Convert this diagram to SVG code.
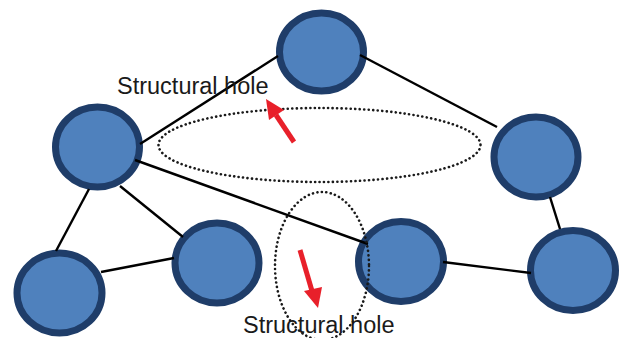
<svg xmlns="http://www.w3.org/2000/svg" width="619" height="338" viewBox="0 0 619 338">
<defs>
<style>
.node{fill:#4f81bd;stroke:#1f3d69;stroke-width:7}
.edge{stroke:#000;stroke-width:2.4;fill:none}
.hole{fill:none;stroke:#1a1a1a;stroke-width:2.6;stroke-dasharray:0.1 4.4;stroke-linecap:round}
.arrow{stroke:#e8202a;stroke-width:5;fill:none}
.ah{fill:#e8202a}
.lbl{font-family:"Liberation Sans",Arial,sans-serif;font-size:23.5px;fill:#1a1a1a}
</style>
</defs>
<rect width="619" height="338" fill="#fff"/>
<g id="node-top"><ellipse class="node" cx="321.5" cy="52" rx="42" ry="39"/></g>
<g id="node-left"><ellipse class="node" cx="97.5" cy="147" rx="42" ry="40"/></g>
<g id="node-right-top"><ellipse class="node" cx="536" cy="157" rx="42" ry="40"/></g>
<g id="node-bottom-left"><ellipse class="node" cx="59.5" cy="293" rx="42.5" ry="40"/></g>
<g id="node-bottom-mid"><ellipse class="node" cx="217" cy="263" rx="42" ry="40"/></g>
<g id="node-bottom-center"><ellipse class="node" cx="401" cy="261.5" rx="42.5" ry="40"/></g>
<g id="node-bottom-right"><ellipse class="node" cx="573" cy="270.5" rx="42.5" ry="40"/></g>
<g id="connectors">
<line class="edge" x1="140" y1="144" x2="278" y2="56"/>
<line class="edge" x1="360" y1="55" x2="497" y2="127"/>
<line class="edge" x1="135" y1="160" x2="368" y2="244"/>
<line class="edge" x1="89" y1="189" x2="56" y2="251"/>
<line class="edge" x1="120" y1="186" x2="183" y2="237"/>
<line class="edge" x1="101" y1="272" x2="174" y2="258"/>
<line class="edge" x1="443" y1="262" x2="531" y2="273"/>
<line class="edge" x1="550" y1="197" x2="560" y2="229"/>
</g>
<g id="hole-top">
<ellipse class="hole" cx="319.5" cy="145" rx="161" ry="37"/>
<line class="arrow" x1="294" y1="142" x2="276" y2="115"/>
<polygon class="ah" points="266,99 284,110 269,120"/>
<text class="lbl" x="117" y="94">Structural hole</text>
</g>
<g id="hole-bottom">
<ellipse class="hole" cx="322" cy="266" rx="47" ry="74"/>
<line class="arrow" x1="300" y1="250" x2="312" y2="291"/>
<polygon class="ah" points="318,308 304,291 322,287"/>
<text class="lbl" x="243" y="333">Structural hole</text>
</g>
</svg>
